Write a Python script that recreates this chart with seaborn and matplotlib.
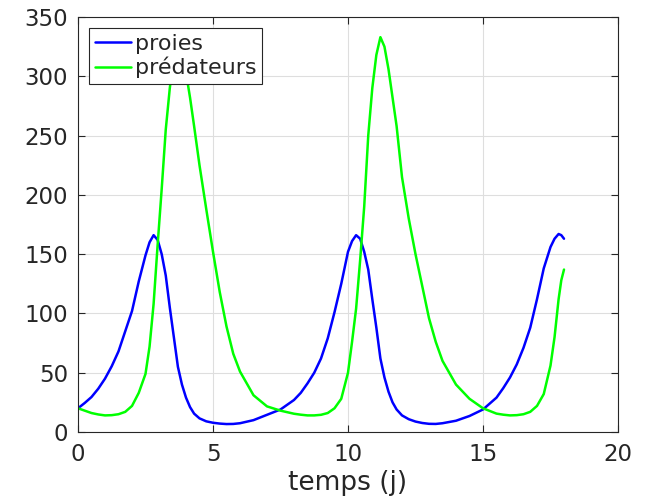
import matplotlib
matplotlib.use("Agg")
import matplotlib.pyplot as plt
import seaborn as sns
import pandas as pd

# Data
temps = [0, 0.25, 0.5, 0.75, 1.0, 1.25, 1.5, 1.75, 2.0, 2.25, 2.5, 2.65, 2.8, 2.95, 3.1,
         3.25, 3.4, 3.55, 3.7, 3.85, 4.0, 4.15, 4.3, 4.5, 4.75, 5.0, 5.25, 5.5, 5.75,
         6.0, 6.5, 7.0, 7.5, 8.0, 8.25, 8.5, 8.75, 9.0, 9.25, 9.5, 9.75, 10.0, 10.15,
         10.3, 10.45, 10.6, 10.75, 10.9, 11.05, 11.2, 11.35, 11.5, 11.65, 11.8, 12.0,
         12.25, 12.5, 12.75, 13.0, 13.25, 13.5, 14.0, 14.5, 15.0, 15.5, 15.75, 16.0,
         16.25, 16.5, 16.75, 17.0, 17.25, 17.5, 17.65, 17.8, 17.9, 18.0]

proies = [20, 24.5, 29.5, 36.5, 45, 55.5, 68, 85, 102, 127, 149, 160, 166, 162, 150,
          132, 105, 80, 55, 40, 29, 21, 15.5, 11.5, 9, 7.8, 7.1, 6.7, 6.8,
          7.4, 10, 14.5, 19, 27, 33, 41, 50, 62, 79, 101, 125, 152, 161,
          166, 163, 152, 137, 112, 88, 62, 46, 34, 25, 19, 14,
          10.8, 8.8, 7.6, 6.9, 6.8, 7.4, 9.5, 13.5, 19, 29, 37, 46,
          57, 71, 88, 112, 138, 156, 163, 167, 166, 163]

predateurs = [20, 18, 16, 14.8, 14, 14.2, 15, 17, 22, 33, 49, 72, 108, 158, 205,
              255, 290, 318, 332, 322, 303, 282, 258, 225, 188, 152, 118, 89, 66,
              51, 31, 21.6, 18, 15.4, 14.6, 14, 14, 14.5, 16, 20, 28, 50, 76,
              104, 145, 190, 250, 290, 318, 333, 325, 306, 282, 258, 215,
              180, 150, 123, 96, 76, 60, 40, 28, 20, 15.5, 14.6, 14,
              14.2, 15, 17, 22, 32, 56, 80, 112, 128, 137]

labels = ["proies", "prédateurs"]
x_ticks = [0, 5, 10, 15, 20]
y_ticks = [0, 50, 100, 150, 200, 250, 300, 350]

df = pd.DataFrame({"t": temps, "proies": proies, "predateurs": predateurs})

sns.set_style("white")
plt.rcParams["font.family"] = ["DejaVu Sans"]

fig = plt.figure(figsize=(6.46, 5.01), dpi=100)
ax = fig.add_axes([78 / 646, 1 - 432 / 501, 540 / 646, 415 / 501])

sns.lineplot(data=df, x="t", y="proies", color="#0000ff", linewidth=1.8,
             label=labels[0], ax=ax)
sns.lineplot(data=df, x="t", y="predateurs", color="#00ff00", linewidth=1.8,
             label=labels[1], ax=ax)

ax.set_xlim(0, 20)
ax.set_ylim(0, 350)
ax.set_xticks(x_ticks)
ax.set_yticks(y_ticks)
ax.grid(True, color="#dedede", linewidth=0.8)
ax.set_axisbelow(True)
for s in ax.spines.values():
    s.set_visible(True)
    s.set_color("#262626")
    s.set_linewidth(0.8)
ax.tick_params(axis="both", direction="in", length=5, width=0.8, color="#262626",
               labelsize=16.5, labelcolor="#262626", top=True, right=True,
               bottom=True, left=True)
ax.tick_params(axis="y", pad=7)
ax.tick_params(axis="x", pad=8)
ax.set_xlabel("temps (j)", fontsize=19, color="#262626", labelpad=3)
ax.set_ylabel("")

leg = ax.legend(loc="upper left", fontsize=16, frameon=True, fancybox=False,
                framealpha=1.0, edgecolor="#262626", borderpad=0.25,
                handlelength=1.65, handletextpad=0.15, labelspacing=0.15,
                borderaxespad=0.5)
leg.get_frame().set_linewidth(0.8)

fig.savefig("out.png", dpi=100)
